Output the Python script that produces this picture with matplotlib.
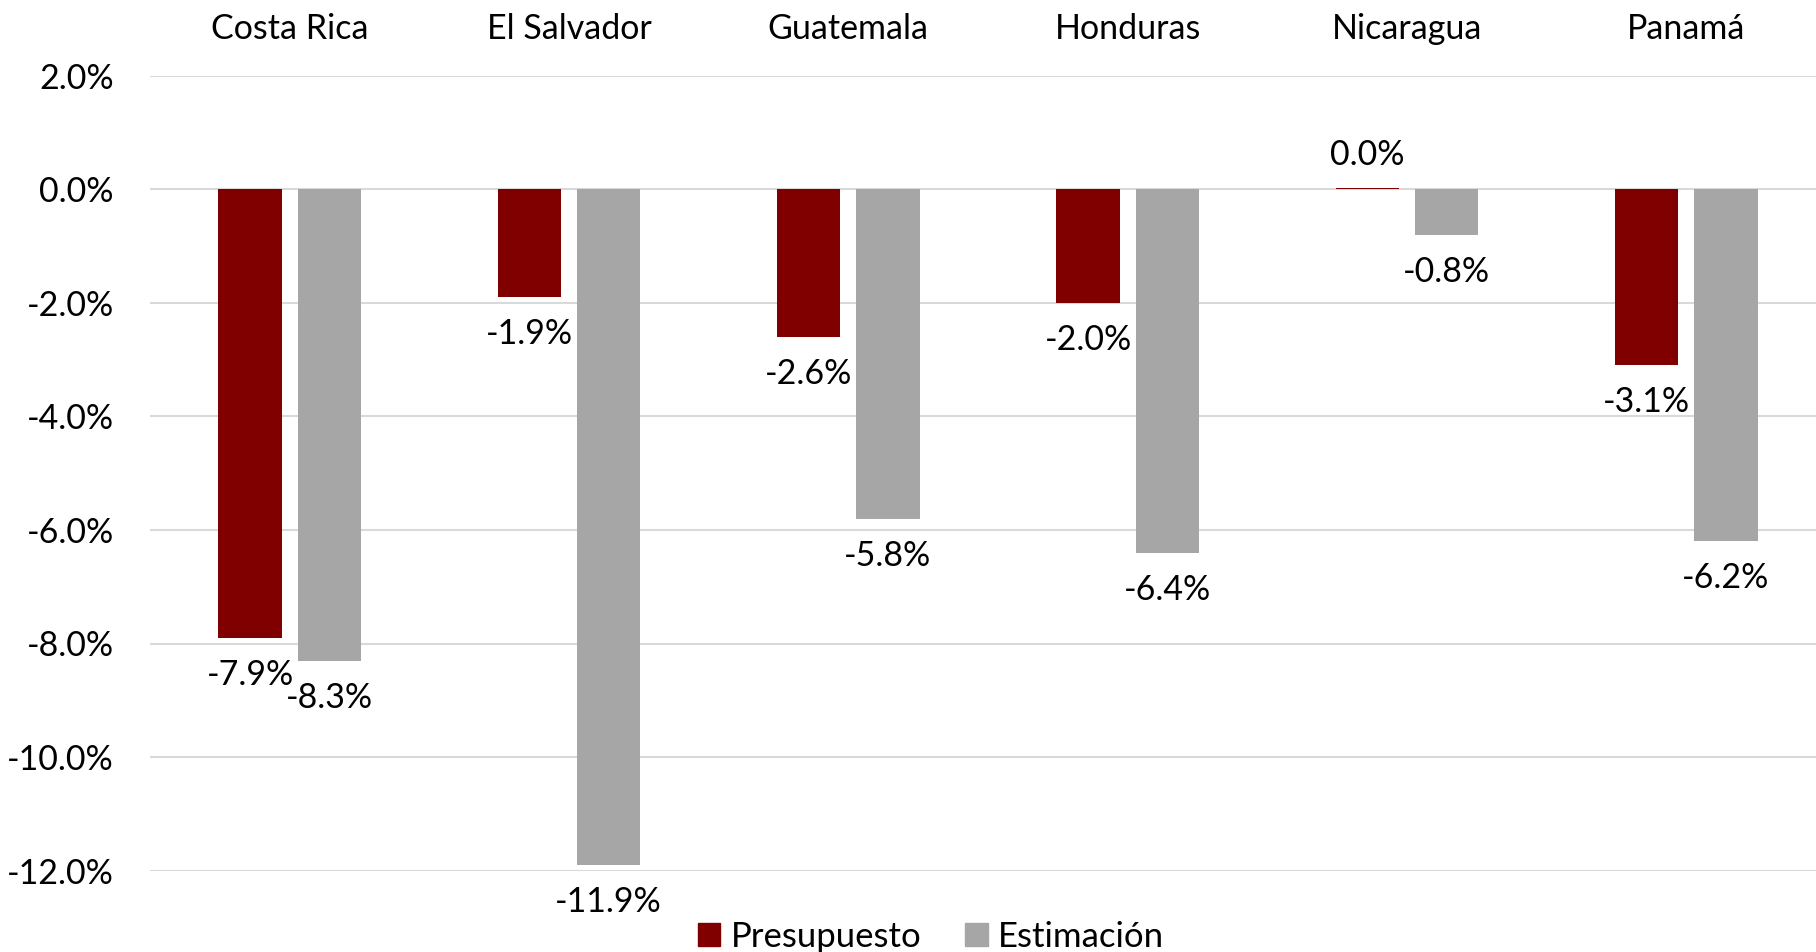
import numpy as np
import matplotlib
matplotlib.use("Agg")
import matplotlib.pyplot as plt
from matplotlib.patches import Patch

# ── Data ──────────────────────────────────────────────────────────────────────
paises       = ["Costa Rica", "El Salvador", "Guatemala", "Honduras", "Nicaragua", "Panamá"]
presupuesto  = [-7.9, -1.9, -2.6, -2.0, 0.03, -3.1]
estimacion   = [-8.3, -11.9, -5.8, -6.4, -0.8, -6.2]
y_ticks      = [2.0, 0.0, -2.0, -4.0, -6.0, -8.0, -10.0, -12.0]

COLOR_PRES = "#800000"
COLOR_EST  = "#a6a6a6"
FONT       = "Lato"
FS         = 24.5

plt.rcParams["font.family"] = [FONT, "DejaVu Sans"]

W, H = 1816, 952
fig = plt.figure(figsize=(W / 100, H / 100), dpi=100)
ax  = fig.add_axes([150 / W, (H - 870.5) / H, (1826 - 150) / W, (870.5 - 76) / H])

x      = np.arange(len(paises))
width  = 0.2256
offset = 0.142

bars_p = ax.bar(x - offset, presupuesto, width, color=COLOR_PRES, zorder=3)
bars_e = ax.bar(x + offset, estimacion, width, color=COLOR_EST, zorder=3)

# value labels: below the bar end for negatives, above for positives
for bars, vals in ((bars_p, presupuesto), (bars_e, estimacion)):
    for b, v in zip(bars, vals):
        cx = b.get_x() + b.get_width() / 2
        dy = -37 if v < 0 else 33
        ax.annotate(f"{v:.1f}%", xy=(cx, v), xytext=(0, dy), textcoords="offset pixels",
                    ha="center", va="center", fontsize=FS, color="black",
                    annotation_clip=False)

ax.set_xlim(-0.5, len(paises) - 0.5)
ax.set_ylim(-12, 2)
ax.set_yticks(y_ticks)
ax.set_yticklabels([f"{t:.1f}%" for t in y_ticks], fontsize=FS)

ax.xaxis.tick_top()
ax.set_xticks(x)
ax.set_xticklabels(paises, fontsize=FS)
ax.tick_params(axis="x", length=0, pad=22)
ax.tick_params(axis="y", length=0, pad=26)

ax.grid(axis="y", color="#d9d9d9", linewidth=1.5, zorder=0)
for s in ax.spines.values():
    s.set_visible(False)

handles = [Patch(color=COLOR_PRES, label="Presupuesto"),
           Patch(color=COLOR_EST, label="Estimación")]
fig.legend(handles=handles, loc="center", bbox_to_anchor=(931 / W, 1 - 937 / H),
           ncol=2, frameon=False, fontsize=FS + 0.5, handlelength=0.65, handleheight=0.65,
           handletextpad=0.3, columnspacing=1.25, borderpad=0)

fig.savefig("out.png", dpi=100)
